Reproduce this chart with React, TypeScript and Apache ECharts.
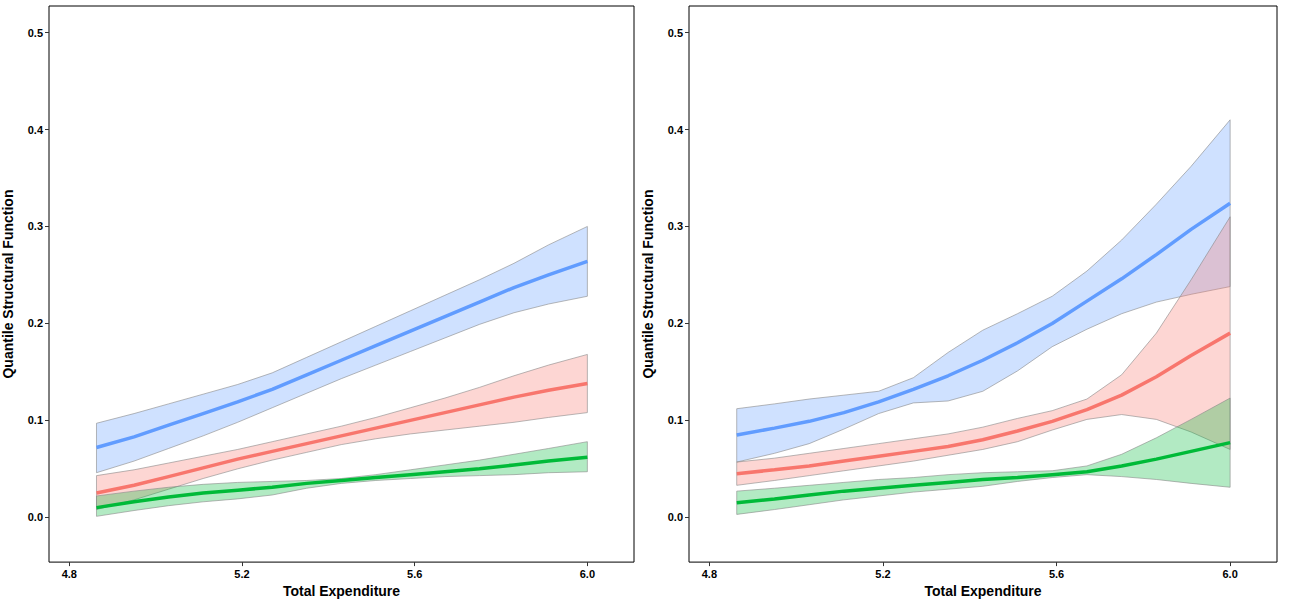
import React, { useEffect, useRef } from "react";
import * as echarts from "echarts";

const xs = [4.863, 4.95, 5.03, 5.11, 5.19, 5.27, 5.35, 5.43, 5.51, 5.59, 5.67, 5.75, 5.83, 5.91, 6.0];
const yTicks = [0, 0.1, 0.2, 0.3, 0.4, 0.5];
const xTicks = [4.8, 5.2, 5.6, 6.0];

// Left panel
const L_blueMean = [0.072,0.083,0.095,0.107,0.119,0.132,0.147,0.162,0.177,0.192,0.207,0.222,0.237,0.25,0.264];
const L_blueUp = [0.097,0.107,0.117,0.127,0.137,0.149,0.165,0.181,0.197,0.213,0.229,0.245,0.262,0.281,0.300];
const L_blueLo = [0.046,0.058,0.071,0.084,0.098,0.113,0.128,0.143,0.157,0.171,0.185,0.199,0.211,0.220,0.228];
const L_redMean = [0.025,0.033,0.042,0.051,0.060,0.068,0.076,0.084,0.092,0.100,0.108,0.116,0.124,0.131,0.138];
const L_redUp = [0.043,0.049,0.056,0.063,0.070,0.078,0.086,0.094,0.103,0.113,0.123,0.134,0.146,0.157,0.168];
const L_redLo = [0.008,0.018,0.029,0.040,0.050,0.059,0.067,0.075,0.081,0.086,0.090,0.094,0.098,0.103,0.108];
const L_greenMean = [0.010,0.016,0.021,0.025,0.028,0.031,0.035,0.038,0.041,0.044,0.047,0.050,0.054,0.058,0.062];
const L_greenUp = [0.022,0.027,0.031,0.034,0.036,0.037,0.038,0.040,0.044,0.049,0.054,0.059,0.065,0.071,0.078];
const L_greenLo = [0.001,0.007,0.012,0.016,0.019,0.023,0.030,0.035,0.038,0.040,0.042,0.043,0.044,0.046,0.047];

// Right panel
const R_blueMean = [0.085,0.092,0.099,0.108,0.119,0.132,0.146,0.162,0.180,0.200,0.223,0.246,0.271,0.297,0.324];
const R_blueUp = [0.112,0.117,0.122,0.126,0.130,0.144,0.170,0.193,0.210,0.228,0.254,0.286,0.323,0.362,0.410];
const R_blueLo = [0.057,0.066,0.076,0.091,0.107,0.118,0.120,0.130,0.151,0.176,0.194,0.210,0.222,0.230,0.238];
const R_redMean = [0.045,0.049,0.053,0.058,0.063,0.068,0.073,0.080,0.089,0.099,0.111,0.126,0.145,0.167,0.190];
const R_redUp = [0.057,0.061,0.066,0.071,0.076,0.081,0.086,0.093,0.102,0.110,0.122,0.147,0.190,0.245,0.310];
const R_redLo = [0.033,0.038,0.043,0.048,0.053,0.058,0.064,0.070,0.078,0.090,0.101,0.106,0.101,0.088,0.070];
const R_greenMean = [0.015,0.019,0.023,0.027,0.030,0.033,0.036,0.039,0.041,0.044,0.047,0.053,0.060,0.068,0.077];
const R_greenUp = [0.027,0.030,0.033,0.036,0.039,0.041,0.044,0.046,0.047,0.048,0.053,0.065,0.082,0.101,0.123];
const R_greenLo = [0.003,0.008,0.013,0.018,0.022,0.026,0.029,0.032,0.037,0.041,0.044,0.042,0.039,0.035,0.031];

const BLUE = "#619CFF", RED = "#F8766D", GREEN = "#00BA38";
const FILLS: Record<string, string> = { [BLUE]: "rgba(97,156,255,0.3)", [RED]: "rgba(248,118,109,0.3)", [GREEN]: "rgba(0,186,56,0.3)" };

function band(idx: number, lo: number[], up: number[], color: string) {
  return {
    type: "custom", xAxisIndex: idx, yAxisIndex: idx, z: 1,
    data: xs.map((x, i) => [x, lo[i], up[i]]),
    renderItem: (params: any, api: any) => {
      if (params.dataIndex !== 0) return null;
      const top = xs.map((x, i) => api.coord([x, up[i]]));
      const bot = xs.map((x, i) => api.coord([x, lo[i]])).reverse();
      return {
        type: "polygon",
        shape: { points: [...top, ...bot] },
        style: { fill: FILLS[color], stroke: "#888", lineWidth: 0.6 },
      };
    },
  };
}
function mean(idx: number, m: number[], color: string) {
  return {
    type: "line", xAxisIndex: idx, yAxisIndex: idx, symbol: "none", z: 3,
    data: xs.map((x, i) => [x, m[i]]),
    lineStyle: { color, width: 3.5 },
  };
}

export default function App() {
  const ref = useRef<HTMLDivElement>(null);
  useEffect(() => {
    document.body.style.margin = "0";
    const chart = echarts.init(ref.current!, null, { renderer: "svg" });
    const font = { fontFamily: "Liberation Sans, Arial, sans-serif" };
    const mkX = (g: number) => ({
      type: "value", gridIndex: g, min: 4.753, max: 6.108,
      name: "Total Expenditure", nameLocation: "middle", nameGap: 20,
      nameTextStyle: { ...font, fontSize: 14, fontWeight: "bold", color: "#000" },
      axisLine: { show: false, onZero: false }, splitLine: { show: false },
      axisTick: { show: true, length: 4, lineStyle: { color: "#333" }, customValues: xTicks },
      axisLabel: { ...font, fontSize: 11, fontWeight: "bold", color: "#000", margin: 6, customValues: xTicks, formatter: (v: number) => v.toFixed(1) },
    });
    const mkY = (g: number) => ({
      type: "value", gridIndex: g, min: -0.0462, max: 0.5274,
      name: "Quantile Structural Function", nameLocation: "middle", nameGap: 34,
      nameTextStyle: { ...font, fontSize: 14, fontWeight: "bold", color: "#000" },
      axisLine: { show: false, onZero: false }, splitLine: { show: false },
      axisTick: { show: true, length: 4, lineStyle: { color: "#333" }, customValues: yTicks },
      axisLabel: { ...font, fontSize: 11, fontWeight: "bold", color: "#000", margin: 6, customValues: yTicks, formatter: (v: number) => v.toFixed(1) },
    });
    chart.setOption({
      animation: false,
      grid: [
        { left: 46, right: 656, top: 6, bottom: 38, show: true, borderColor: "#000", borderWidth: 1, backgroundColor: "#fff" },
        { left: 689, right: 13, top: 6, bottom: 38, show: true, borderColor: "#000", borderWidth: 1, backgroundColor: "#fff" },
      ],
      xAxis: [mkX(0), mkX(1)],
      yAxis: [mkY(0), mkY(1)],
      series: [
        band(0, L_blueLo, L_blueUp, BLUE),
        band(0, L_redLo, L_redUp, RED),
        band(0, L_greenLo, L_greenUp, GREEN),
        mean(0, L_blueMean, BLUE), mean(0, L_redMean, RED), mean(0, L_greenMean, GREEN),
        band(1, R_blueLo, R_blueUp, BLUE),
        band(1, R_redLo, R_redUp, RED),
        band(1, R_greenLo, R_greenUp, GREEN),
        mean(1, R_blueMean, BLUE), mean(1, R_redMean, RED), mean(1, R_greenMean, GREEN),
      ],
    });
    return () => chart.dispose();
  }, []);
  return <div ref={ref} style={{ width: 1290, height: 603 }} />;
}
